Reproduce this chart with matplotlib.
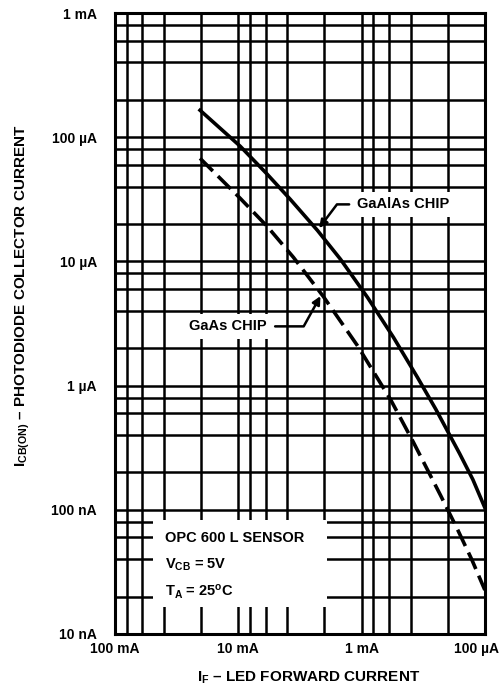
import numpy as np
import matplotlib
matplotlib.use('Agg')
import matplotlib.pyplot as plt
from matplotlib.patches import Rectangle
from matplotlib.transforms import ScaledTranslation

# LED forward current (mA) vs photodiode collector current (uA)
if_gaalas = [20.4, 9.63, 5.81, 3.78, 2.28, 1.48, 0.894, 0.55, 0.351, 0.25, 0.16, 0.125, 0.1]
ic_gaalas = [165, 84.6, 50.3, 31.6, 17.8, 10.4, 5.13, 2.44, 1.16, 0.646, 0.283, 0.175, 0.104]

if_gaas = [20.4, 9.63, 5.81, 3.57, 2.04, 1.08, 0.581, 0.378, 0.228, 0.166, 0.128, 0.1]
ic_gaas = [67.7, 32.2, 19.1, 10.8, 5.22, 2.10, 0.771, 0.347, 0.130, 0.069, 0.040, 0.0226]

x_ticks = [100, 10, 1, 0.1]
x_labels = ['100 mA', '10 mA', '1 mA', '100 µA']
y_ticks = [1000, 100, 10, 1, 0.1, 0.01]
y_labels = ['1 mA', '100 µA', '10 µA', '1 µA', '100 nA', '10 nA']

plt.rcParams['font.family'] = ['Liberation Sans', 'DejaVu Sans']
plt.rcParams['font.weight'] = 'bold'
plt.rcParams['mathtext.fontset'] = 'custom'
plt.rcParams['mathtext.rm'] = 'Liberation Sans:bold'
plt.rcParams['mathtext.it'] = 'Liberation Sans:bold'
plt.rcParams['mathtext.bf'] = 'Liberation Sans:bold'

fig = plt.figure(figsize=(5.04, 6.88), dpi=100)
ax = fig.add_axes([0.228, 0.0785, 0.734, 0.9025])

ax.set_xscale('log')
ax.set_yscale('log')
ax.set_xlim(100, 0.1)
ax.set_ylim(0.01, 1000)

# grid at 1, 2, 4, 6, 8 of each decade
minor_x = [m * 10.0 ** d for d in range(-1, 2) for m in (2, 4, 6, 8)]
minor_y = [m * 10.0 ** d for d in range(-2, 3) for m in (2, 4, 6, 8)]
ax.set_xticks(x_ticks)
ax.set_xticklabels(x_labels)
ax.set_xticks(minor_x, minor=True)
ax.set_xticklabels([], minor=True)
ax.set_yticks(y_ticks)
ax.set_yticklabels(y_labels)
ax.set_yticks(minor_y, minor=True)
ax.set_yticklabels([], minor=True)
ax.tick_params(which='both', length=0, labelsize=10)
ax.tick_params(axis='y', pad=13)
ax.tick_params(axis='x', pad=6)
ax.grid(which='both', color='black', linewidth=1.8)
ax.set_axisbelow(True)
for s in ax.spines.values():
    s.set_linewidth(2.2)

# nudge the last x label left so it stays on the page
lab = ax.get_xticklabels()[-1]
lab.set_transform(lab.get_transform() + ScaledTranslation(-8 / 100, 0, fig.dpi_scale_trans))

ax.plot(if_gaalas, ic_gaalas, color='black', linewidth=2.6, zorder=5)
ax.plot(if_gaas, ic_gaas, color='black', linewidth=2.6, dashes=(5, 2), zorder=5)

ax.annotate('GaAlAs CHIP', xy=(2.28, 17.8), xytext=(0.456, 28.8),
            fontsize=10.5, ha='center', va='center',
            bbox=dict(facecolor='white', edgecolor='none', pad=4),
            arrowprops=dict(arrowstyle='-|>', color='black', lw=1.8,
                            mutation_scale=12,
                            connectionstyle='angle,angleA=0,angleB=53,rad=0'),
            zorder=6)
ax.annotate('GaAs CHIP', xy=(2.1, 5.5), xytext=(12.1, 3.0),
            fontsize=10.5, ha='center', va='center',
            bbox=dict(facecolor='white', edgecolor='none', pad=4),
            arrowprops=dict(arrowstyle='-|>', color='black', lw=1.8,
                            mutation_scale=12,
                            connectionstyle='angle,angleA=0,angleB=61,rad=0'),
            zorder=6)

ax.add_patch(Rectangle((0.103, 0.043), 0.47, 0.141, transform=ax.transAxes,
                       facecolor='white', edgecolor='none', zorder=3))
ax.text(0.135, 0.155, 'OPC 600 L SENSOR', transform=ax.transAxes,
        fontsize=10.5, va='center', zorder=4)
ax.text(0.135, 0.111, r'V$_{\rm CB}$ = 5V', transform=ax.transAxes,
        fontsize=10.5, va='center', zorder=4)
ax.text(0.135, 0.068, r'T$_{\rm A}$ = 25$^{\rm o}$C', transform=ax.transAxes,
        fontsize=10.5, va='center', zorder=4)

fig.text(0.613, 0.015, r'I$_{\rm F}$ – LED FORWARD CURRENT', ha='center',
         va='center', fontsize=11)
fig.text(0.045, 0.57, r'I$_{\rm CB(ON)}$ – PHOTODIODE COLLECTOR CURRENT',
         ha='center', va='center', rotation=90, fontsize=11)

fig.savefig('out.png', dpi=100)
